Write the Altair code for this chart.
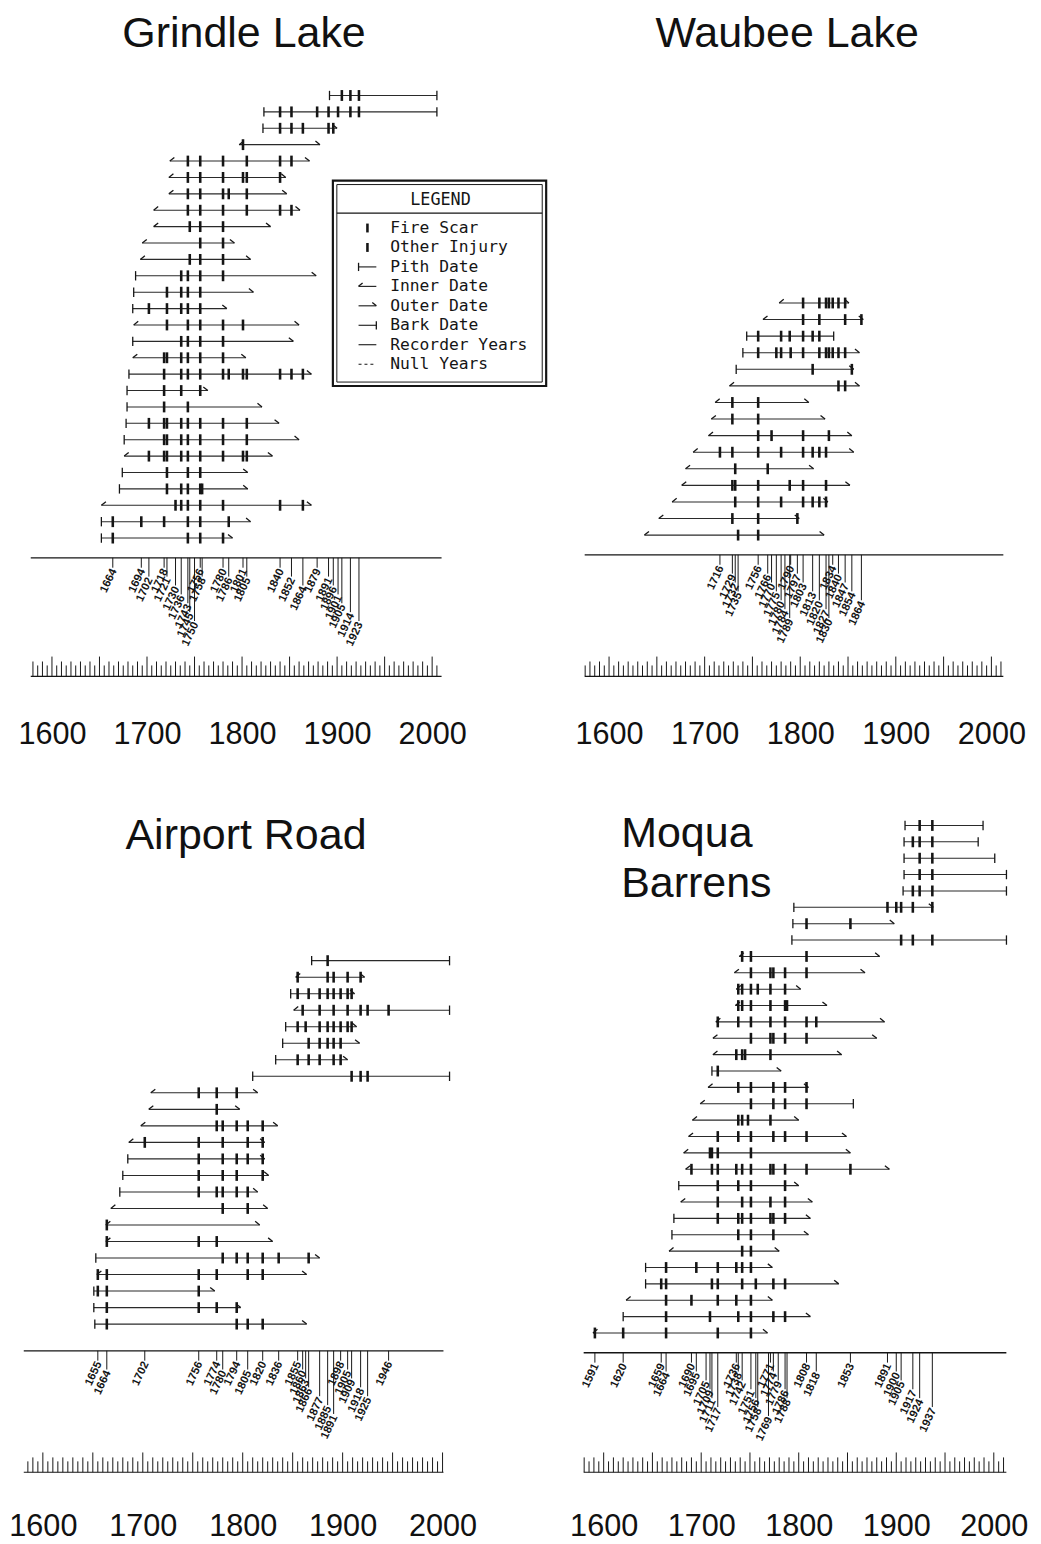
import altair as alt
import pandas as pd

INK = "#151515"
FONT = "Liberation Sans"

# ---------------- Grindle Lake ----------------
grindle_start = [1892, 1823, 1822, 1797, 1724, 1723, 1723, 1707, 1707, 1695, 1693, 1688, 1686, 1685,
                 1686, 1685, 1685, 1681, 1679, 1679, 1678, 1676, 1676, 1674, 1671, 1652, 1652, 1652]
grindle_start_type = ["pith", "pith", "pith", "inner", "inner", "inner", "inner", "inner", "inner", "inner",
                      "inner", "pith", "pith", "pith", "inner", "pith", "inner", "pith", "pith", "pith",
                      "pith", "pith", "inner", "pith", "pith", "inner", "pith", "pith"]
grindle_end = [2005, 2005, 1900, 1882, 1871, 1846, 1847, 1861, 1830, 1792, 1809, 1878, 1812, 1784,
               1860, 1854, 1804, 1873, 1764, 1821, 1839, 1860, 1832, 1806, 1806, 1873, 1809, 1790]
grindle_end_type = ["bark", "bark"] + ["outer"] * 26
grindle_scars = [
    [1905, 1914, 1923], [1840, 1852, 1879, 1891, 1901, 1914, 1923], [1840, 1852, 1864, 1891, 1896],
    [1801], [1743, 1756, 1780, 1805, 1840, 1852], [1743, 1756, 1780, 1801, 1805, 1840],
    [1743, 1756, 1780, 1786, 1805], [1743, 1756, 1780, 1805, 1840, 1852], [1745, 1756, 1780],
    [1756, 1780], [1745, 1756, 1780], [1736, 1743, 1756, 1780], [1721, 1736, 1743, 1756],
    [1702, 1721, 1736, 1743, 1756], [1721, 1743, 1756, 1780, 1801], [1736, 1743, 1756, 1780],
    [1718, 1721, 1736, 1743, 1756, 1780],
    [1718, 1736, 1743, 1756, 1780, 1786, 1801, 1805, 1840, 1852, 1864], [1718, 1736, 1756],
    [1718, 1743], [1702, 1718, 1721, 1736, 1743, 1756, 1780, 1805],
    [1718, 1721, 1736, 1743, 1756, 1780, 1805], [1702, 1718, 1721, 1736, 1743, 1756, 1780, 1801, 1805],
    [1721, 1743, 1756], [1721, 1736, 1743, 1756, 1758], [1730, 1736, 1743, 1756, 1780, 1840, 1864],
    [1664, 1694, 1718, 1743, 1756, 1786], [1664, 1743, 1756, 1780],
]
grindle_composite = [1664, 1694, 1702, 1718, 1721, 1730, 1736, 1743, 1745, 1750, 1756, 1758, 1780, 1786,
                     1801, 1805, 1840, 1852, 1864, 1879, 1891, 1896, 1901, 1905, 1914, 1923]

# ---------------- Waubee Lake ----------------
waubee_start = [1778, 1761, 1744, 1740, 1733, 1726, 1711, 1707, 1704, 1688, 1680, 1676, 1666, 1652, 1637]
waubee_start_type = ["inner", "inner", "pith", "pith", "pith"] + ["inner"] * 10
waubee_end = [1851, 1866, 1835, 1862, 1856, 1862, 1809, 1826, 1854, 1856, 1814, 1852, 1829, 1799, 1825]
waubee_end_type = ["outer", "outer", "bark"] + ["outer"] * 12
waubee_scars = [
    [1803, 1820, 1827, 1830, 1834, 1840, 1847], [1803, 1820, 1847, 1864],
    [1756, 1780, 1789, 1803, 1813, 1820],
    [1756, 1775, 1780, 1790, 1803, 1820, 1827, 1830, 1834, 1840, 1847],
    [1813, 1854], [1840, 1847], [1729, 1756], [1729, 1756], [1756, 1770, 1803, 1830],
    [1716, 1729, 1756, 1780, 1803, 1813, 1820, 1827], [1732, 1766],
    [1729, 1732, 1756, 1789, 1803, 1827], [1732, 1756, 1780, 1803, 1813, 1820, 1827],
    [1729, 1756, 1797], [1735, 1756],
]
waubee_composite = [1716, 1729, 1732, 1735, 1756, 1766, 1770, 1775, 1780, 1784, 1789, 1790, 1797, 1803,
                    1813, 1820, 1827, 1830, 1834, 1840, 1847, 1854, 1864]

# ---------------- Airport Road ----------------
airport_start = [1869, 1853, 1848, 1851, 1843, 1840, 1833, 1810, 1708, 1706, 1698, 1686, 1685, 1680,
                 1677, 1668, 1663, 1663, 1653, 1654, 1651, 1651, 1652]
airport_start_type = ["pith", "inner", "pith", "inner", "pith", "pith", "pith", "pith", "inner", "inner",
                      "inner", "inner", "pith", "pith", "pith", "inner", "inner", "inner", "pith", "inner",
                      "pith", "pith", "pith"]
airport_end = [2007, 1922, 1912, 2007, 1914, 1917, 1905, 2007, 1815, 1797, 1835, 1822, 1822, 1826,
               1815, 1825, 1817, 1830, 1877, 1864, 1772, 1798, 1864]
airport_end_type = ["bark", "outer", "outer", "bark", "outer", "outer", "outer", "bark"] + ["outer"] * 15
airport_scars = [
    [1885], [1855, 1885, 1891, 1905, 1918], [1855, 1866, 1877, 1885, 1891, 1898, 1905, 1909],
    [1860, 1877, 1891, 1905, 1918, 1925, 1946], [1855, 1863, 1877, 1885, 1891, 1898, 1905, 1909],
    [1866, 1877, 1885, 1891, 1898], [1855, 1866, 1877, 1891, 1898], [1909, 1918, 1925],
    [1756, 1774, 1794], [1774], [1774, 1780, 1794, 1805, 1820], [1702, 1756, 1780, 1805, 1820],
    [1756, 1780, 1794, 1805, 1820], [1756, 1780, 1794, 1820], [1756, 1774, 1780, 1794, 1805],
    [1780, 1805], [1664], [1664, 1756, 1774], [1780, 1794, 1805, 1820, 1836, 1866],
    [1655, 1664, 1756, 1774, 1805, 1820], [1655, 1664, 1756], [1664, 1756, 1774, 1794],
    [1664, 1794, 1805, 1820],
]
airport_composite = [1655, 1664, 1702, 1756, 1774, 1780, 1794, 1805, 1820, 1836, 1855, 1860, 1863, 1866,
                     1877, 1885, 1891, 1898, 1905, 1909, 1918, 1925, 1946]

# ---------------- Moqua Barrens ----------------
moqua_start = [1909, 1908, 1908, 1908, 1907, 1795, 1794, 1793, 1739, 1734, 1736, 1735, 1715, 1712, 1712,
               1711, 1707, 1699, 1691, 1687, 1682, 1684, 1677, 1679, 1672, 1670, 1667, 1643, 1643, 1623,
               1620, 1589]
moqua_start_type = ["pith"] * 8 + ["inner"] * 7 + ["pith"] + ["inner"] * 6 + ["pith", "inner", "pith",
                    "pith", "inner", "pith", "pith", "inner", "pith", "inner"]
moqua_end = [1989, 1984, 2001, 2013, 2013, 1938, 1898, 2013, 1883, 1868, 1802, 1829, 1888, 1880, 1844,
             1782, 1810, 1856, 1800, 1849, 1853, 1893, 1800, 1814, 1812, 1810, 1780, 1773, 1841, 1773,
             1812, 1768]
moqua_end_type = ["bark"] * 5 + ["outer", "outer", "bark"] + ["outer"] * 9 + ["bark"] + ["outer"] * 14
moqua_scars = [
    [1924, 1937], [1917, 1924, 1937], [1924, 1937], [1924, 1937], [1917, 1924, 1937],
    [1891, 1900, 1905, 1917, 1937], [1808, 1853], [1905, 1917, 1937],
    [1742, 1751, 1808], [1751, 1771, 1774, 1786, 1808], [1738, 1742, 1751, 1758, 1771, 1786],
    [1738, 1742, 1751, 1771, 1786, 1788], [1717, 1738, 1751, 1771, 1786, 1808, 1818],
    [1751, 1771, 1774, 1786, 1808], [1736, 1742, 1745, 1771], [1717],
    [1738, 1751, 1774, 1786, 1808], [1751, 1774, 1786, 1808], [1738, 1742, 1748, 1771],
    [1717, 1738, 1751, 1774, 1786, 1808], [1709, 1711, 1717, 1751],
    [1690, 1711, 1717, 1736, 1742, 1751, 1771, 1774, 1786, 1808, 1853],
    [1717, 1738, 1751, 1786], [1717, 1742, 1751, 1771, 1786],
    [1717, 1738, 1742, 1751, 1771, 1774, 1786], [1738, 1751, 1774], [1742, 1751],
    [1664, 1695, 1717, 1736, 1742, 1751], [1659, 1664, 1711, 1717, 1742, 1756, 1774, 1786],
    [1664, 1690, 1717, 1736, 1751], [1664, 1709, 1738, 1751, 1774, 1786], [1591, 1620, 1664, 1717, 1751],
]
moqua_composite = [1591, 1620, 1659, 1664, 1690, 1695, 1705, 1709, 1711, 1717, 1736, 1738, 1742, 1751,
                   1756, 1758, 1769, 1771, 1774, 1779, 1786, 1788, 1808, 1818, 1853, 1891, 1900, 1905,
                   1917, 1924, 1937]

legend_labels = ["Fire Scar", "Other Injury", "Pith Date", "Inner Date", "Outer Date", "Bark Date",
                 "Recorder Years", "Null Years"]
legend_kinds = ["scar", "injury", "pith", "inner", "outer", "bark", "recorder", "null"]
axis_years = [1600, 1700, 1800, 1900, 2000]

SHAPE_BAR = "M0,-1L0,1"
SHAPE_INNER = "M0,0L0.75,-0.6"
SHAPE_OUTER = "M0,0L-0.75,-0.6"
PANEL_H = 667


def stagger(years, gap=14, levels=7):
    tiers, prev, t = [], None, 0
    for y in years:
        t = (t + 1) % levels if (prev is not None and y - prev < gap) else 0
        tiers.append(t)
        prev = y
    return tiers


def panel(starts, stypes, ends, etypes, scars, comp, L, legend=False):
    n = len(starts)
    ppr = L["ppr"]

    def below(px):
        return 1 - px / ppr

    lo = below(L["bottom_gap"])
    hi = lo + PANEL_H / ppr
    x0, x1 = L["xdom"]

    def gx(px):  # page pixel -> year (layout helper for titles / legend)
        return x0 + (px - L["left"]) * (x1 - x0) / L["width"]

    def gr(py):  # page pixel -> row units
        return hi - (py - L["top"]) / ppr

    xs = alt.Scale(domain=L["xdom"], nice=False, zero=False)
    ys = alt.Scale(domain=[lo, hi], nice=False, zero=False)
    axis = alt.Axis(values=axis_years, format="d", labelFontSize=31, labelFont=FONT, labelColor="#111111",
                    domain=False, ticks=False, tickSize=0, grid=False, title=None,
                    labelPadding=L["label_pad"], labelFlush=False, labelOverlap=False)

    def X(f):
        return alt.X(f, type="quantitative", scale=xs, axis=axis)

    def Y(f):
        return alt.Y(f, type="quantitative", scale=ys, axis=None)

    trees = pd.DataFrame({"start": starts, "stype": stypes, "end": ends, "etype": etypes})
    trees["row"] = n - trees.index
    srows = []
    for i, ss in enumerate(scars):
        for s in ss:
            srows.append({"year": s, "row": n - i})
    sdf = pd.DataFrame(srows)

    layers = []
    layers.append(alt.Chart(trees).mark_rule(color="#2a2a2a", strokeWidth=1.1).encode(
        x=X("start"), x2="end", y=Y("row")))
    pt = dict(filled=False, stroke=INK, strokeWidth=1.3, opacity=1)
    layers.append(alt.Chart(trees[trees.stype == "pith"]).mark_point(shape=SHAPE_BAR, size=90, **pt)
                  .encode(x=X("start"), y=Y("row")))
    layers.append(alt.Chart(trees[trees.stype == "inner"]).mark_point(shape=SHAPE_INNER, size=150, **pt)
                  .encode(x=X("start"), y=Y("row")))
    layers.append(alt.Chart(trees[trees.etype == "bark"]).mark_point(shape=SHAPE_BAR, size=90, **pt)
                  .encode(x=X("end"), y=Y("row")))
    layers.append(alt.Chart(trees[trees.etype == "outer"]).mark_point(shape=SHAPE_OUTER, size=150, **pt)
                  .encode(x=X("end"), y=Y("row")))
    layers.append(alt.Chart(sdf).mark_tick(orient="vertical", size=11, thickness=2.6, color=INK, opacity=1)
                  .encode(x=X("year"), y=Y("row")))

    # composite axis
    comp_r = below(L["comp_gap"])
    span = pd.DataFrame({"a": [L["span"][0]], "b": [L["span"][1]], "r": [comp_r]})
    layers.append(alt.Chart(span).mark_rule(color=INK, strokeWidth=1.3).encode(x=X("a"), x2="b", y=Y("r")))
    tiers = stagger(comp)
    cdf = pd.DataFrame({"year": comp, "tier": tiers})
    cdf["r0"] = comp_r
    cdf["r1"] = [below(L["comp_gap"] + 10 + t * 9) for t in tiers]
    cdf["label"] = cdf["year"].astype(str)
    layers.append(alt.Chart(cdf).mark_rule(color=INK, strokeWidth=1).encode(
        x=X("year"), y=Y("r0"), y2="r1"))
    layers.append(alt.Chart(cdf).mark_text(angle=295, align="right", baseline="middle", font=FONT,
                                           fontSize=11.5, fontWeight="bold", color=INK, dx=-1, dy=2)
                  .encode(x=X("year"), y=Y("r1"), text="label"))

    # ruler
    base_r = below(L["bottom_gap"] - 1)
    rdf = pd.DataFrame({"a": [L["span"][0]], "b": [L["span"][1]], "r": [base_r]})
    layers.append(alt.Chart(rdf).mark_rule(color=INK, strokeWidth=1.2).encode(x=X("a"), x2="b", y=Y("r")))
    ticks = []
    y0 = int(L["span"][0] // 5 * 5 + 5)
    for yr in range(y0, int(L["span"][1]) + 1, 5):
        h = 20 if yr % 50 == 0 else (15 if yr % 10 == 0 else 11)
        ticks.append({"year": yr, "r0": base_r, "r1": below(L["bottom_gap"] - 1 - h)})
    layers.append(alt.Chart(pd.DataFrame(ticks)).mark_rule(color=INK, strokeWidth=1).encode(
        x=X("year"), y=Y("r0"), y2="r1"))

    # panel title (drawn as text inside the panel)
    tdf = pd.DataFrame({"t": L["title"], "x": [gx(L["title_px"][0])] * len(L["title"]),
                        "r": [gr(L["title_px"][1] + 50 * i) for i in range(len(L["title"]))]})
    layers.append(alt.Chart(tdf).mark_text(font=FONT, fontSize=43.5, color="#111111", baseline="alphabetic",
                                           align=L["title_align"])
                  .encode(x=X("x"), y=Y("r"), text="t"))

    if legend:
        box = pd.DataFrame({"x0": [gx(333), gx(337)], "x1": [gx(549), gx(545)],
                            "y0": [gr(178), gr(182)], "y1": [gr(386), gr(382)], "w": [2.2, 1.0]})
        layers.append(alt.Chart(box).mark_rect(fill="white", stroke=INK).encode(
            x=X("x0"), x2="x1", y=Y("y0"), y2="y1", strokeWidth=alt.StrokeWidth("w:Q", scale=None)))
        sep = pd.DataFrame({"a": [gx(337)], "b": [gx(545)], "r": [gr(211)]})
        layers.append(alt.Chart(sep).mark_rule(color=INK, strokeWidth=1.2).encode(x=X("a"), x2="b", y=Y("r")))
        head = pd.DataFrame({"x": [gx(442)], "r": [gr(198)], "t": ["LEGEND"]})
        layers.append(alt.Chart(head).mark_text(font="DejaVu Sans Mono", fontSize=17, color=INK,
                                                baseline="middle")
                      .encode(x=X("x"), y=Y("r"), text="t"))
        ldf = pd.DataFrame({"label": legend_labels, "kind": legend_kinds})
        ldf["r"] = [gr(226 + i * 19.7) for i in range(len(ldf))]
        ldf["tx"] = gx(391)
        ldf["gx0"] = gx(359)
        ldf["gx1"] = gx(377)
        ldf["gc"] = gx(368)
        layers.append(alt.Chart(ldf).mark_text(font="DejaVu Sans Mono", fontSize=16.5, align="left",
                                               baseline="middle", color=INK)
                      .encode(x=X("tx"), y=Y("r"), text="label"))
        lines = ldf[ldf.kind.isin(["pith", "inner", "outer", "bark", "recorder"])]
        layers.append(alt.Chart(lines).mark_rule(color=INK, strokeWidth=1.1).encode(
            x=X("gx0"), x2="gx1", y=Y("r")))
        layers.append(alt.Chart(ldf[ldf.kind == "null"]).mark_rule(color=INK, strokeWidth=1.1,
                                                                    strokeDash=[3, 3])
                      .encode(x=X("gx0"), x2="gx1", y=Y("r")))
        layers.append(alt.Chart(ldf[ldf.kind.isin(["scar", "injury"])]).mark_tick(
            orient="vertical", size=9, thickness=2.6, color=INK, opacity=1).encode(x=X("gc"), y=Y("r")))
        layers.append(alt.Chart(ldf[ldf.kind == "pith"]).mark_point(shape=SHAPE_BAR, size=70, **pt)
                      .encode(x=X("gx0"), y=Y("r")))
        layers.append(alt.Chart(ldf[ldf.kind == "inner"]).mark_point(shape=SHAPE_INNER, size=120, **pt)
                      .encode(x=X("gx0"), y=Y("r")))
        layers.append(alt.Chart(ldf[ldf.kind == "outer"]).mark_point(shape=SHAPE_OUTER, size=120, **pt)
                      .encode(x=X("gx1"), y=Y("r")))
        layers.append(alt.Chart(ldf[ldf.kind == "bark"]).mark_point(shape=SHAPE_BAR, size=70, **pt)
                      .encode(x=X("gx1"), y=Y("r")))

    return alt.layer(*layers).properties(width=L["width"], height=PANEL_H)


G = dict(xdom=[1568.3, 2014.0], width=429, left=18, top=14, ppr=16.6, bottom_gap=141, comp_gap=20,
         span=[1577.7, 2009.9], label_pad=43, title=["Grindle Lake"], title_px=(243, 43),
         title_align="center")
W = dict(xdom=[1571.4, 2017.7], width=432, left=585, top=14, ppr=16.79, bottom_gap=144, comp_gap=20,
         span=[1574.5, 2012.5], label_pad=43, title=["Waubee Lake"], title_px=(793, 43),
         title_align="center")
A = dict(xdom=[1578.95, 2002.9], width=429, left=18, top=812, ppr=16.73, bottom_gap=151, comp_gap=27,
         span=[1580.9, 2000.9], label_pad=39, title=["Airport Road"], title_px=(245, 847),
         title_align="center")
M = dict(xdom=[1577.5, 2014.9], width=432, left=585, top=812, ppr=16.58, bottom_gap=142, comp_gap=20,
         span=[1579.5, 2012.9], label_pad=39, title=["Moqua", "Barrens"], title_px=(625, 845),
         title_align="left")

g = panel(grindle_start, grindle_start_type, grindle_end, grindle_end_type,
          grindle_scars, grindle_composite, G, legend=True)
w = panel(waubee_start, waubee_start_type, waubee_end, waubee_end_type,
          waubee_scars, waubee_composite, W)
a = panel(airport_start, airport_start_type, airport_end, airport_end_type,
          airport_scars, airport_composite, A)
m = panel(moqua_start, moqua_start_type, moqua_end, moqua_end_type,
          moqua_scars, moqua_composite, M)

chart = (alt.concat(g, w, a, m, columns=2, spacing={"row": 139, "column": 138}, bounds="flush")
         .properties(padding={"left": 0, "top": -6, "right": 5, "bottom": 2}, background="white")
         .configure_view(stroke=None))

chart.save("out.html", embed_options={"renderer": "svg", "actions": False})
